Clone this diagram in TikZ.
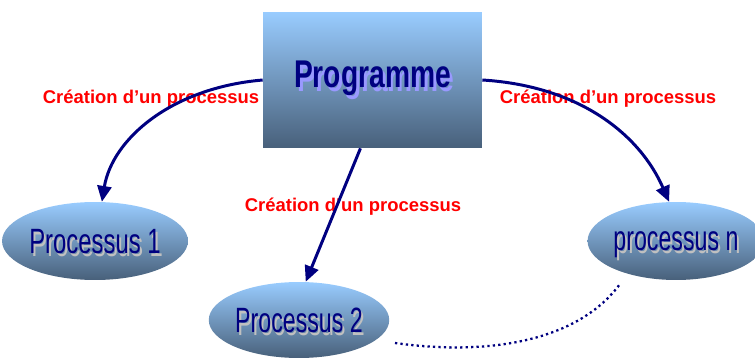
\documentclass[tikz,border=0pt]{standalone}
\usepackage{fontspec}
\setmainfont{Liberation Sans}
\usetikzlibrary{arrows.meta,shapes.geometric}

\definecolor{navy}{HTML}{000080}
\definecolor{skytop}{HTML}{99CCFF}
\definecolor{slatebot}{HTML}{48607A}
\definecolor{progshadow}{HTML}{9999FF}
\definecolor{procshadow}{HTML}{C0C0C0}

% text with a soft offset shadow behind it
\newcommand{\shtext}[3]{\makebox[0pt][l]{\raisebox{-#3}{\hspace*{#3}\textcolor{#2}{#1}}}#1}

\begin{document}
\begin{tikzpicture}[
    x=0.02cm, y=-0.02cm,
    prog/.style={rectangle, top color=skytop, bottom color=slatebot, draw=none,
        minimum width=4.38cm, minimum height=2.72cm, inner sep=0pt,
        text=navy, font=\fontsize{22}{24}\selectfont\bfseries},
    proc/.style={ellipse, top color=skytop, bottom color=slatebot, draw=none,
        minimum width=3.46cm, minimum height=1.56cm, inner sep=0pt,
        text depth=0pt, text=navy, font=\fontsize{20}{22}\selectfont},
    lbl/.style={text=red, font=\fontsize{10.5}{12}\selectfont\bfseries, inner sep=0pt},
    arrow/.style={-{Triangle[length=9pt,width=8pt]}, line width=1.7pt, draw=navy},
    dots/.style={line width=1.3pt, draw=navy, dash pattern=on 1.3pt off 1.8pt}
]
\useasboundingbox (0,0) rectangle (755,358);

\node[prog] (prog) at (372.5,80) {\scalebox{0.73}[1]{\shtext{Programme}{progshadow}{2.3pt}}};
\node[proc] (p1) at (95,241) {\scalebox{0.68}[1]{\shtext{Processus 1}{procshadow}{1.8pt}}};
\node[proc, minimum width=3.52cm, minimum height=1.52cm] (p2) at (299,320) {\scalebox{0.66}[1]{\shtext{Processus 2}{procshadow}{1.8pt}}};
\node[proc] (pn) at (676,241) {\scalebox{0.66}[1]{\shtext{processus n}{procshadow}{1.8pt}}};

\node[lbl] (l1) at (151,99) {Création d'un processus};
\node[lbl] (l2) at (353,207) {Création d'un processus};
\node[lbl] (l3) at (608,99) {Création d'un processus};

\draw[arrow] (prog.west) .. controls (170,88) and (112,140) .. (p1.80);
\draw[arrow] (prog.-100) -- (p2.80);
\draw[arrow] (prog.east) .. controls (580,86) and (640,135) .. (pn.100);

\coordinate (d1) at (395,343);
\coordinate (d2) at (620,284);
\draw[dots] (d1) .. controls (480,355) and (575,345) .. (d2);

\end{tikzpicture}
\end{document}
